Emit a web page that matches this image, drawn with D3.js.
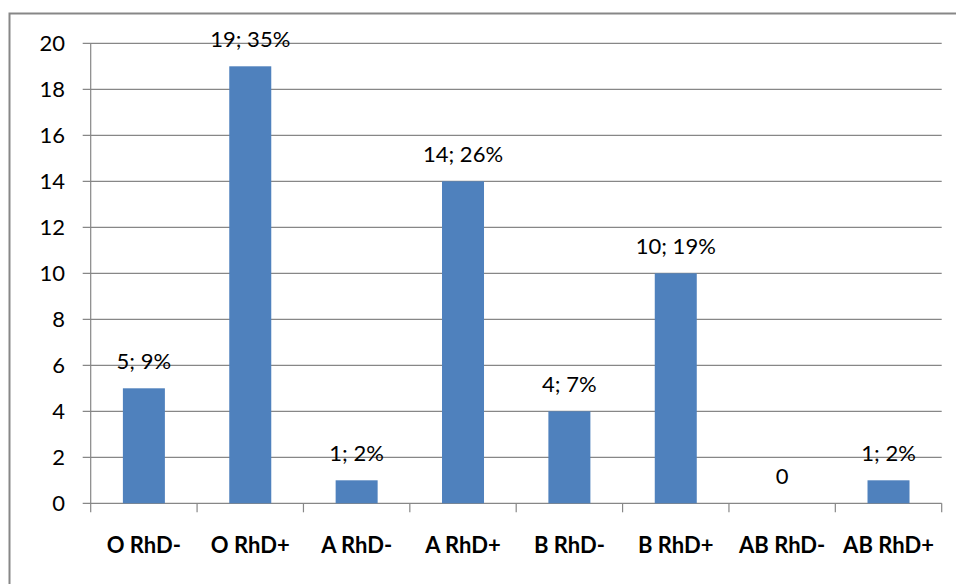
<!DOCTYPE html>
<html><head><meta charset="utf-8">
<script src="https://cdn.jsdelivr.net/npm/d3@7"></script>
<style>body{margin:0;background:#fff;} text{font-family:Lato,"Open Sans",sans-serif;}</style>
</head><body><svg id="c" width="956" height="584"></svg>
<script>
const categories = ["O RhD-","O RhD+","A RhD-","A RhD+","B RhD-","B RhD+","AB RhD-","AB RhD+"];
const counts = [5,19,1,14,4,10,0,1];
const labels = ["5; 9%","19; 35%","1; 2%","14; 26%","4; 7%","10; 19%","0","1; 2%"];
const yTicks = [0,2,4,6,8,10,12,14,16,18,20];

const svg = d3.select("#c");
const L = 90.7, R = 941.7, T = 43.3, B = 503.3;
svg.append("rect").attr("x",9.5).attr("y",13.5).attr("width",960).attr("height",600)
  .attr("fill","none").attr("stroke","#878787").attr("stroke-width",2);

const xb = d3.scaleBand().domain(categories).range([L,R]);
const y = d3.scaleLinear().domain([0,20]).range([B,T]);

// gridlines
svg.append("g").selectAll("line").data(yTicks).join("line")
  .attr("x1",L-8).attr("x2",R).attr("y1",d=>y(d)).attr("y2",d=>y(d))
  .attr("stroke","#878787").attr("stroke-width",1.2);
// y axis line
svg.append("line").attr("x1",L).attr("x2",L).attr("y1",T).attr("y2",B)
  .attr("stroke","#878787").attr("stroke-width",1.2);
// x ticks
const xt = categories.map(c=>xb(c)).concat([R]);
svg.append("g").selectAll("line").data(xt).join("line")
  .attr("x1",d=>d).attr("x2",d=>d).attr("y1",B).attr("y2",B+9)
  .attr("stroke","#878787").attr("stroke-width",1.2);

// y labels
svg.append("g").selectAll("text").data(yTicks).join("text")
  .attr("x",65).attr("y",d=>y(d)).attr("dy","0.36em").attr("text-anchor","end")
  .attr("font-size",22).attr("fill","#000").text(d=>d);

// bars
const bw = 42;
svg.append("g").selectAll("rect").data(counts).join("rect")
  .attr("x",(d,i)=>xb(categories[i])+xb.bandwidth()/2-bw/2).attr("width",bw)
  .attr("y",d=>y(d)).attr("height",d=>B-y(d)).attr("fill","#4F81BD");

// data labels
svg.append("g").selectAll("text").data(counts).join("text")
  .attr("x",(d,i)=>xb(categories[i])+xb.bandwidth()/2).attr("y",d=>y(d)-19)
  .attr("text-anchor","middle").attr("font-size",22).attr("fill","#000")
  .text((d,i)=>labels[i]);

// x labels
svg.append("g").selectAll("text").data(categories).join("text")
  .attr("x",d=>xb(d)+xb.bandwidth()/2).attr("y",553)
  .attr("text-anchor","middle").attr("font-size",22).attr("font-weight","bold").attr("fill","#000")
  .text(d=>d);
</script></body></html>
